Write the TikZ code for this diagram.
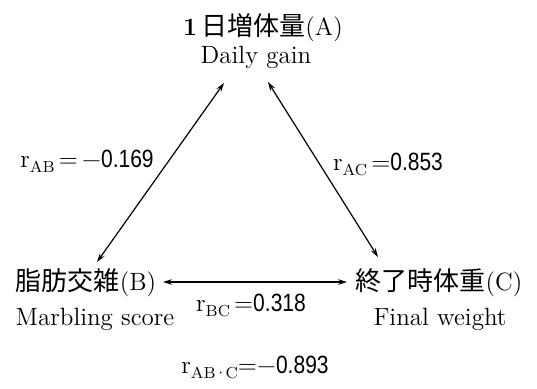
\documentclass[tikz,border=0pt]{standalone}
\usepackage{fontspec}
\usepackage{graphicx}
\usetikzlibrary{arrows.meta}
\newfontfamily\jp{Noto Sans CJK JP}
\newfontfamily\numfont{Liberation Sans}
\newcommand\rsub[1]{r\raisebox{-0.5ex}{\fontsize{8}{9}\selectfont #1}}
\newcommand\numtxt[1]{{\numfont\scalebox{0.84}[1]{#1}}}
\newcommand\jpt[1]{{\jp\fontsize{13}{15}\selectfont #1}}
\tikzset{
  lbl/.style={inner sep=0pt, anchor=base, font=\fontsize{12.5}{15}\selectfont},
  arr/.style={line width=0.6pt, {Stealth[length=4.5pt,width=2.8pt]}-{Stealth[length=4.5pt,width=2.8pt]}}
}
\begin{document}
\begin{tikzpicture}[x=0.5pt,y=-0.5pt]
\useasboundingbox (0,0) rectangle (537,388);
% node labels
\node[lbl] (A1) at (263,35) {\textbf{1}\,\jpt{日増体量}(A)};
\node[lbl] (A2) at (256,63) {Daily gain};
\node[lbl] (B1) at (86,290) {\jpt{脂肪交雑}(B)};
\node[lbl] (B2) at (95,325) {Marbling score};
\node[lbl] (C1) at (439,290) {\jpt{終了時体重}(C)};
\node[lbl] (C2) at (440,325) {Final weight};
% connector end points
\coordinate (aB) at (224,83);
\coordinate (bA) at (97,262);
\coordinate (aC) at (268,82);
\coordinate (cA) at (378,257);
\coordinate (bC) at (163,282);
\coordinate (cB) at (347,282);
\draw[arr] (bA) -- (aB);
\draw[arr] (aC) -- (cA);
\draw[arr] (bC) -- (cB);
% correlation labels
\node[lbl] (rAB) at (87,167) {\rsub{AB}\,=\,\char"2212\numtxt{0.169}};
\node[lbl] (rAC) at (388,170) {\rsub{AC}\,=\numtxt{0.853}};
\node[lbl] (rBC) at (251,311) {\rsub{BC}\,=\numtxt{0.318}};
\node[lbl] (rABC) at (255,373) {\rsub{AB\kern-0.1em·\kern-0.1em C}=\char"2212\numtxt{0.893}};
\end{tikzpicture}
\end{document}
